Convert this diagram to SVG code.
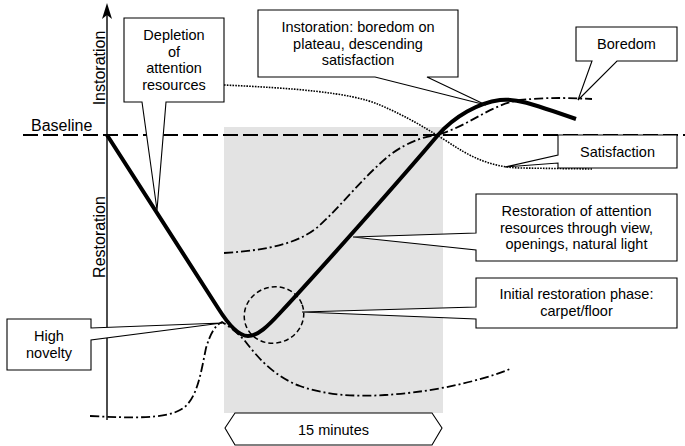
<svg xmlns="http://www.w3.org/2000/svg" width="685" height="446" viewBox="0 0 685 446">
<style>
text{font-family:"Liberation Sans",Arial,sans-serif;font-size:14.5px;fill:#000;text-anchor:middle}
.ax{font-size:16px}
.call{fill:#fff;stroke:#000;stroke-width:1.1;stroke-linejoin:miter}
.dd{fill:none;stroke:#000;stroke-width:1.8;stroke-dasharray:9,3,2,3}
.dot{fill:none;stroke:#000;stroke-width:1.6;stroke-dasharray:1.6,1.2}
</style>
<rect x="224" y="127" width="219" height="286" fill="#e3e3e3"/>
<g id="axes">
<line x1="23" y1="135" x2="685" y2="135" stroke="#000" stroke-width="2" stroke-dasharray="15,5"/>
<line x1="107" y1="10" x2="107" y2="420" stroke="#000" stroke-width="1.4"/>
<path d="M107,3 L112,19 L107,15 L102,19 Z" fill="#000"/>
<text class="ax" x="31" y="131" style="text-anchor:start">Baseline</text>
<text class="ax" transform="translate(104.5,68) rotate(-90)">Instoration</text>
<text class="ax" transform="translate(104.5,237) rotate(-90)">Restoration</text>
</g>
<g id="connectors">
<path class="dot" d="M224,85 C290,88 350,92 380,105 C410,118 425,128 445,140 C470,157 490,167 520,168 L592,169"/>
<path class="dd" d="M224,253 C270,250 300,243 320,225 C340,207 365,175 390,155 C410,140 425,137 440,134 C470,125 490,105 520,100 C550,97 570,98 592,99"/>
<path class="dd" d="M90,416 C130,418 165,419 180,410 C197,402 201,372 206,348 C210,335 214,326 222,322 C230,327 238,333 245,341 C258,358 275,377 300,386 C325,395 355,397 385,395 C420,393 470,385 510,369"/>
<path d="M107,135 L218,308 C228,324 238,336 248,336 C258,336 268,326 280,313 C320,270 400,180 438,135 C455,116 478,103 500,100 C515,98 530,103 576,119" fill="none" stroke="#000" stroke-width="4" stroke-linejoin="round"/>
<ellipse cx="274" cy="315" rx="30" ry="28" transform="rotate(-20 274 315)" fill="none" stroke="#000" stroke-width="1.5" stroke-dasharray="5,3"/>
</g>
<g id="depletion">
<path class="call" d="M124,18 H224 V102 H166 L157,210 L142,102 H124 Z"/>
<text x="174" y="40">Depletion</text>
<text x="174" y="56.5">of</text>
<text x="174" y="73">attention</text>
<text x="174" y="89.5">resources</text>
</g>
<g id="instoration">
<path class="call" d="M258,10 H458 V77 H427 L486,105 L375,77 H258 Z"/>
<text x="358" y="32">Instoration: boredom on</text>
<text x="358" y="48.5">plateau, descending</text>
<text x="358" y="65">satisfaction</text>
</g>
<g id="boredom">
<path class="call" d="M576,27 H677 V61 H617 L578,100 L592,61 H576 Z"/>
<text x="626.5" y="49">Boredom</text>
</g>
<g id="satisfaction">
<path class="call" d="M558,135 H677 V168 H558 V163 L505,167 L558,155 Z"/>
<text x="617.5" y="157">Satisfaction</text>
</g>
<g id="restoration">
<path class="call" d="M476,194 H677 V261 H476 V250 L353,237 L476,233 Z"/>
<text x="576.5" y="216">Restoration of attention</text>
<text x="576.5" y="232.5">resources through view,</text>
<text x="576.5" y="249">openings, natural light</text>
</g>
<g id="initial">
<path class="call" d="M476,278 H677 V328 H476 V319 L302,312 L476,307 Z"/>
<text x="576.5" y="299">Initial restoration phase:</text>
<text x="576.5" y="316">carpet/floor</text>
</g>
<g id="novelty">
<path class="call" d="M7,319 H91 V328 L222,323 L91,340 V370 H7 Z"/>
<text x="49" y="341">High</text>
<text x="49" y="357.5">novelty</text>
</g>
<g id="minutes">
<path class="call" d="M225,428 L235,413 H432 L442,428 L432,445 H235 Z"/>
<text x="333.5" y="435">15 minutes</text>
</g>
</svg>
